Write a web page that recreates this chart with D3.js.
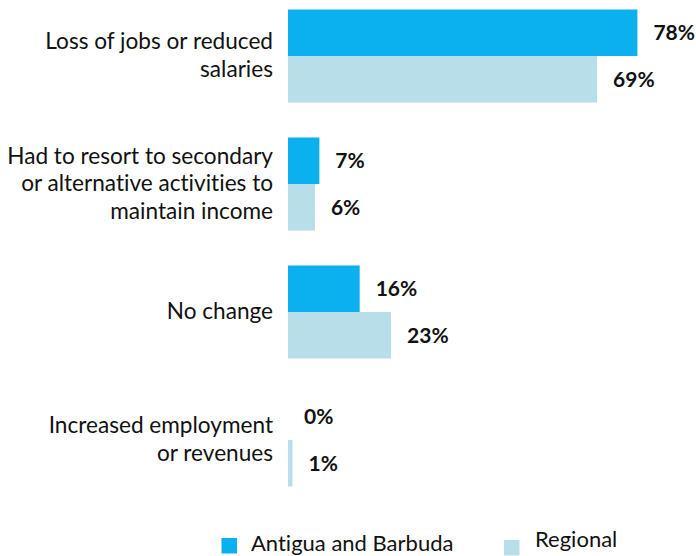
<!DOCTYPE html>
<html>
<head>
<meta charset="utf-8">
<script src="https://cdn.jsdelivr.net/npm/d3@7"></script>
<style>
  html, body { margin: 0; padding: 0; background: #fff; }
  svg { display: block; }
  text { font-family: Lato, "Open Sans", sans-serif; font-variant-ligatures: none; }
</style>
</head>
<body>
<svg id="chart" width="696" height="556"></svg>
<script>
// Impact categories (line breaks mark wrapped labels)
const categories = [
  "Loss of jobs or reduced\nsalaries",
  "Had to resort to secondary\nor alternative activities to\nmaintain income",
  "No change",
  "Increased employment\nor revenues"
];
const seriesNames = ["Antigua and Barbuda", "Regional"];
const antiguaValues = [78, 7, 16, 0];
const regionalValues = [69, 6, 23, 1];
const seriesColors = ["#0AB1EE", "#B8DEEA"];

const rows = categories.map((c, i) => ({
  category: c,
  values: [antiguaValues[i], regionalValues[i]]
}));

const svg = d3.select("#chart");

const x = d3.scaleLinear().domain([0, 100]).range([288, 736]);
const y = d3.scaleBand().domain(categories).range([9.5, 486.5])
  .paddingInner(0.273).paddingOuter(0);
const ySub = d3.scaleBand().domain(d3.range(seriesNames.length))
  .range([0, y.bandwidth()]);

const groups = svg.append("g").selectAll("g")
  .data(rows).join("g")
  .attr("transform", d => `translate(0,${y(d.category)})`);

groups.selectAll("rect")
  .data(d => d.values)
  .join("rect")
  .attr("x", x(0))
  .attr("y", (v, i) => ySub(i))
  .attr("width", v => x(v) - x(0))
  .attr("height", ySub.bandwidth())
  .attr("fill", (v, i) => seriesColors[i]);

groups.selectAll("text.value")
  .data(d => d.values)
  .join("text")
  .attr("class", "value")
  .attr("x", v => x(v) + 16)
  .attr("y", (v, i) => ySub(i) + ySub.bandwidth() / 2)
  .attr("dy", "0.35em")
  .attr("font-size", 21)
  .attr("font-weight", "bold")
  .attr("fill", "#111")
  .text(v => v + "%");

// Category labels, right-aligned against the bars
const lineH = 27.5;
groups.append("text")
  .attr("class", "cat")
  .attr("text-anchor", "end")
  .attr("font-size", 22.6)
  .attr("fill", "#111")
  .each(function(d) {
    const lines = d.category.split("\n");
    const mid = y.bandwidth() / 2 + 7;
    const t = d3.select(this);
    lines.forEach((ln, k) => {
      t.append("tspan")
        .attr("x", 273)
        .attr("y", mid + (k - (lines.length - 1) / 2) * lineH)
        .text(ln);
    });
  });

// Legend
const legendItems = [
  { name: seriesNames[0], color: seriesColors[0], sx: 221.5, tx: 251, ty: 551, sy: 538 },
  { name: seriesNames[1], color: seriesColors[1], sx: 504, tx: 535, ty: 546.5, sy: 540 }
];
const legend = svg.append("g").selectAll("g").data(legendItems).join("g");
legend.append("rect")
  .attr("x", d => d.sx).attr("y", d => d.sy)
  .attr("width", 15.5).attr("height", 15.5)
  .attr("fill", d => d.color);
legend.append("text")
  .attr("x", d => d.tx).attr("y", d => d.ty)
  .attr("font-size", 22)
  .attr("fill", "#111")
  .text(d => d.name);
</script>
</body>
</html>
